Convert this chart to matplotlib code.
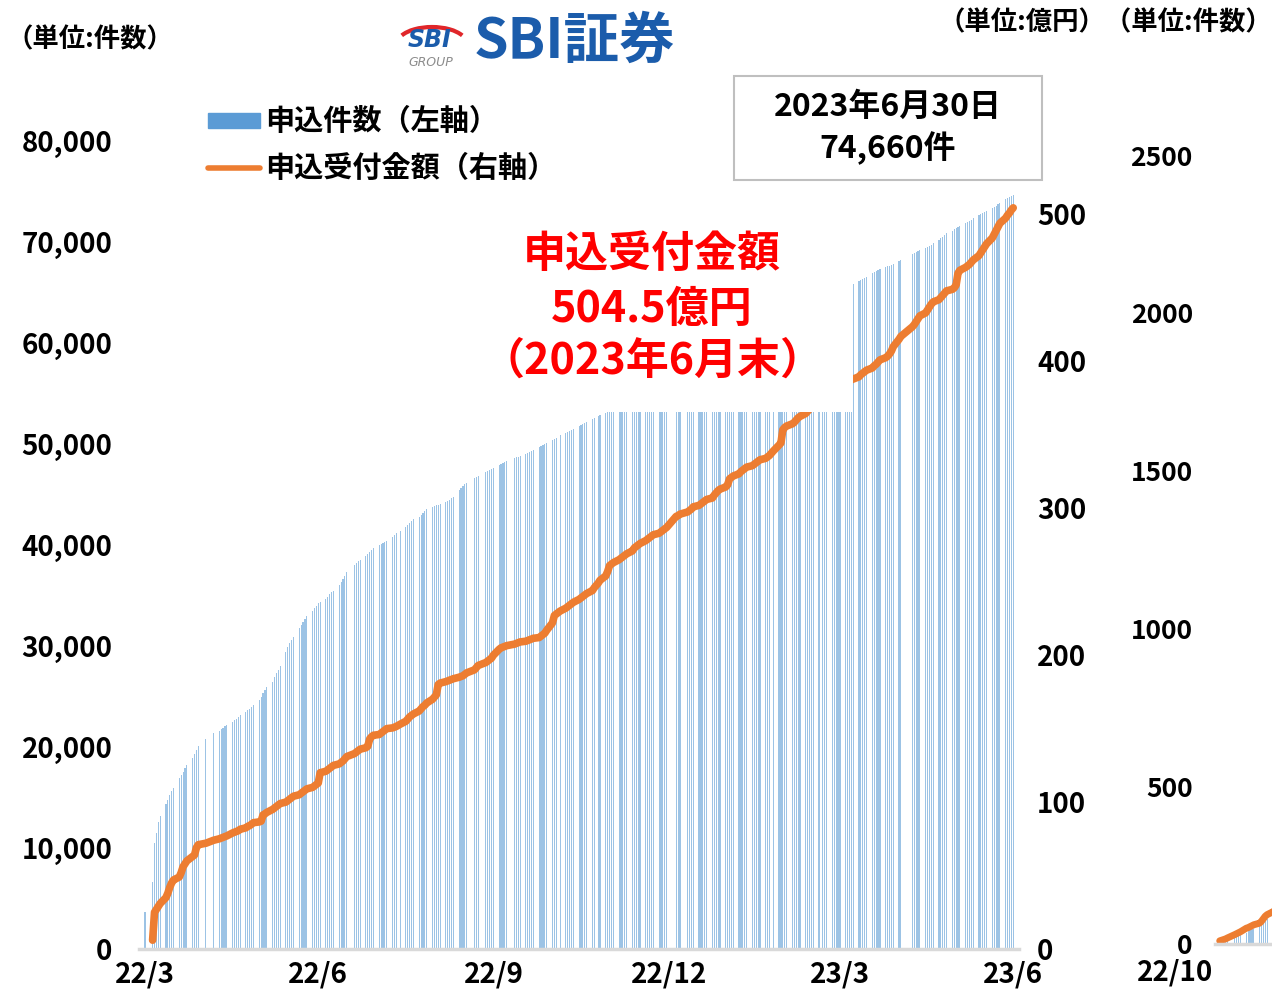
import numpy as np
import matplotlib
matplotlib.use('Agg')
import matplotlib.pyplot as plt
from matplotlib.patches import Rectangle, Arc
from matplotlib.lines import Line2D

plt.rcParams['font.family'] = ['Noto Sans CJK JP', 'DejaVu Sans']

# 申込件数 (cumulative, per business day) by month
counts_2022_03 = [3700]
counts_2022_04 = [6600, 10500, 11500, 12600, 13200, 14400, 14800, 15200, 15600, 15900,
                  16900, 17200, 17500, 17900, 18200, 18900, 19300, 19700, 20100]
counts_2022_05 = [20800, 21400, 21600, 21750, 21900, 22050, 22200, 22500, 22650, 22800,
                  23000, 23150, 23500, 23650, 23800, 24000, 24150, 24650, 25000]
counts_2022_06 = [25300, 25600, 25900, 26400, 26900, 27300, 27600, 28000, 29400, 29900, 30300,
                  30600, 30900, 31800, 32100, 32400, 32700, 33000, 33500, 33800, 34000, 34300]
counts_2022_07 = [34400, 34700, 34900, 35100, 35300, 35400, 36000, 36300, 36600, 36900,
                  37300, 38000, 38200, 38400, 38500, 38900, 39100, 39300, 39500, 39700]
counts_2022_08 = [40000, 40100, 40200, 40300, 40400, 40800, 41000, 41150, 41400, 41800, 42000,
                  42200, 42400, 42600, 42800, 43000, 43200, 43400, 43600, 43800, 43900, 44000]
counts_2022_09 = [44000, 44100, 44300, 44400, 44500, 44650, 44800, 45400, 45600, 45800,
                  46000, 46100, 46600, 46700, 46800, 47200, 47300, 47400, 47500, 47600]
counts_2022_10 = [47900, 48000, 48100, 48200, 48300, 48600, 48700, 48750, 48800, 49050,
                  49150, 49250, 49350, 49400, 49700, 49800, 49900, 50000, 50100, 50400]
counts_2022_11 = [50500, 50600, 50900, 51100, 51200, 51300, 51400, 51450, 51800, 51900,
                  52000, 52100, 52150, 52450, 52550, 52800, 52900, 53100, 53200, 53300]
counts_2022_12 = [53400, 53500, 53700, 53800, 53900, 54000, 54100, 54300, 54400, 54500, 54600,
                  54700, 54900, 55000, 55100, 55200, 55300, 55500, 55600, 55700, 55800, 55900]
counts_2023_01 = [56300, 56400, 56500, 56800, 56900, 57000, 57100, 57400, 57500, 57600,
                  57700, 57800, 58100, 58200, 58300, 58400, 58500, 58800, 58900]
counts_2023_02 = [59200, 59300, 59400, 59700, 59800, 59900, 60000, 60100, 60400, 60500,
                  60600, 60700, 60800, 61100, 61200, 61300, 61500, 61800, 61900]
counts_2023_03 = [62200, 62300, 62400, 62700, 62800, 62900, 63000, 63100, 63400, 63500, 63600,
                  63700, 63800, 64100, 64200, 64300, 64400, 64800, 64900, 65000, 65100, 65200]
counts_2023_04 = [65500, 65600, 65700, 65800, 65840, 66100, 66200, 66300, 66450, 66560,
                  66900, 67000, 67100, 67200, 67300, 67500, 67580, 67650, 67730, 67820]
counts_2023_05 = [68150, 68250, 68800, 68900, 69000, 69100, 69200, 69400, 69500, 69600,
                  69750, 69860, 70200, 70350, 70500, 70650, 70850, 71100, 71250, 71400]
counts_2023_06 = [71500, 71600, 71850, 71950, 72100, 72200, 72340, 72650, 72750, 72850, 72950,
                  73060, 73400, 73500, 73600, 73750, 73880, 74250, 74350, 74450, 74550, 74660]

# 申込受付金額 (億円, cumulative)
amount_2022_04 = [6, 25, 27, 29, 31, 35, 38, 42, 45, 47, 49, 52, 56, 58, 60, 63, 64, 69, 71]
amount_2022_05 = [72, 74, 75, 75.5, 76, 76.5, 77, 79, 79.5, 80, 80.5, 81.5, 82.5, 83.5, 84,
                  85, 86, 86.5, 87]
amount_2022_06 = [91.3, 92, 93, 95, 96, 97, 98, 99, 100, 101, 102, 103, 104, 105, 106, 107,
                  108, 109, 110, 111, 112, 113]
amount_2022_07 = [120, 121, 122, 123, 124, 125, 126, 127, 128, 129.5, 131, 133, 134, 135, 136,
                  137, 138, 143, 144.5, 145.5]
amount_2022_08 = [146, 147, 148, 149, 150, 150.5, 151, 151.5, 153, 155, 156.5, 158, 159, 160,
                  162, 163.5, 165, 166, 167.5, 170, 171.5, 173]
amount_2022_09 = [180, 181, 182, 182.5, 183, 183.5, 184, 185, 185.5, 186, 187, 188, 190, 191.5,
                  193, 195, 196, 197, 198, 200]
amount_2022_10 = [204, 205, 205.5, 206, 206.5, 207.5, 208, 208.5, 209, 209.5, 210, 210.5, 211,
                  211.5, 212, 213, 214, 215, 217, 222]
amount_2022_11 = [227, 228, 230, 232, 233, 234, 235, 236, 238, 239, 240, 241, 242, 244, 246,
                  249, 251, 254, 257, 261]
amount_2022_12 = [262, 263, 265, 266, 267, 268, 269, 271, 273, 274, 275, 276, 278, 279, 280,
                  281, 282, 283, 284, 285, 286, 287]
amount_2023_01 = [294.5, 295, 296, 297.5, 298.5, 299.5, 301, 302, 303, 304, 305, 306, 307, 309,
                  310.5, 312, 313, 314.5, 316]
amount_2023_02 = [320, 321, 322, 323.5, 325, 326, 327, 328, 329, 330, 331, 332, 333, 334, 335,
                  336, 339, 343, 344.5]
amount_2023_03 = [353.5, 355, 356, 357.5, 358.5, 360, 361.5, 362.5, 364.5, 366, 367.5, 369,
                  370.5, 372, 374, 375, 376, 378, 379, 380, 381, 382]
amount_2023_04 = [385, 386, 386.5, 387.5, 388, 389.5, 391, 392, 393, 394, 395.5, 397, 398,
                  399.5, 401, 402.5, 403.5, 405, 407, 410]
amount_2023_05 = [415, 417, 423.5, 425, 427, 429, 431, 433, 435, 437, 439, 440.5, 442, 443.5,
                  445, 446.5, 448, 449, 450, 452]
amount_2023_06 = [460, 462, 464, 465, 466, 467.5, 469, 472, 474, 476, 478, 480, 484, 486.5, 489,
                  491.5, 494, 497.5, 499.5, 501, 503, 504.5]

count_months = ['2022-03', '2022-04', '2022-05', '2022-06', '2022-07', '2022-08', '2022-09',
                '2022-10', '2022-11', '2022-12', '2023-01', '2023-02', '2023-03', '2023-04',
                '2023-05', '2023-06']
count_lists = [counts_2022_03, counts_2022_04, counts_2022_05, counts_2022_06, counts_2022_07,
               counts_2022_08, counts_2022_09, counts_2022_10, counts_2022_11, counts_2022_12,
               counts_2023_01, counts_2023_02, counts_2023_03, counts_2023_04, counts_2023_05,
               counts_2023_06]
amount_lists = [[], amount_2022_04, amount_2022_05, amount_2022_06, amount_2022_07,
                amount_2022_08, amount_2022_09, amount_2022_10, amount_2022_11, amount_2022_12,
                amount_2023_01, amount_2023_02, amount_2023_03, amount_2023_04, amount_2023_05,
                amount_2023_06]

jp_holidays = ['2022-04-29', '2022-05-03', '2022-05-04', '2022-05-05', '2022-07-18',
               '2022-08-11', '2022-09-19', '2022-09-23', '2022-10-10', '2022-11-03',
               '2022-11-23', '2023-01-02', '2023-01-03', '2023-01-09', '2023-02-23',
               '2023-03-21', '2023-05-03', '2023-05-04', '2023-05-05']

tick_dates = ['2022-03-31', '2022-06-30', '2022-09-30', '2022-12-31', '2023-03-31', '2023-06-30']
tick_labels = ['22/3', '22/6', '22/9', '22/12', '23/3', '23/6']

# far-right (cut off) second chart, Oct 2022 onward
sub_counts = [3, 4, 6, 8, 10, 18, 21, 24, 27, 36, 40, 43, 46, 49, 56, 62, 70, 76, 80, 88, 95, 100]
sub_amount = [10, 12, 14, 16, 19, 30, 33, 36, 39, 50, 52, 55, 58, 61, 66, 72, 80, 88, 93, 102,
              110, 115]


def business_days(month):
    first = np.datetime64(month + '-01')
    last = (first.astype('datetime64[M]') + 1).astype('datetime64[D]')
    d = np.arange(first, last)
    return d[np.is_busday(d, holidays=jp_holidays)]


start = np.datetime64('2022-03-31')
bar_x, bar_y, line_x, line_y = [], [], [], []
for m, cl, al in zip(count_months, count_lists, amount_lists):
    days = business_days(m)
    dc = days[len(days) - len(cl):]
    bar_x += list((dc - start).astype(int))
    bar_y += cl
    if al:
        da = days[len(days) - len(al):]
        line_x += list((da - start).astype(int))
        line_y += al

W, H = 1272, 990
fig = plt.figure(figsize=(W / 100, H / 100), dpi=100)


def fx(px):
    return px / W


def fy(py):
    return 1 - py / H


BLUE = '#5B9BD5'
ORANGE = '#ED7D31'
GRID = '#D9D9D9'

ax = fig.add_axes([fx(139), fy(949), fx(1019 - 139), (949 - 141) / H])
ax.bar(bar_x, bar_y, width=0.6, color=BLUE, alpha=0.6, linewidth=0)
ax.set_ylim(0, 80000)
ax.set_xlim((139 - 145) / 1.904, (1019 - 145) / 1.904)
ax.set_yticks(range(0, 80001, 10000))
ax.set_yticklabels([f'{v:,}' for v in range(0, 80001, 10000)], fontsize=20, fontweight='bold')
tick_x = [(np.datetime64(t) - start).astype(int) for t in tick_dates]
ax.set_xticks(tick_x)
ax.set_xticklabels(tick_labels, fontsize=20, fontweight='bold')
ax.tick_params(axis='y', length=0, pad=19)
ax.tick_params(axis='x', length=0, pad=8)
for s in ['top', 'left', 'right']:
    ax.spines[s].set_visible(False)
ax.spines['bottom'].set_color(GRID)
ax.spines['bottom'].set_linewidth(2.5)

ax2 = ax.twinx()
ax2.plot(line_x, line_y, color=ORANGE, lw=5.5, solid_capstyle='round',
         solid_joinstyle='round')
ax2.set_ylim(0, 550)
ax2.set_yticks(range(0, 501, 100))
ax2.set_yticklabels([str(v) for v in range(0, 501, 100)], fontsize=20, fontweight='bold')
ax2.tick_params(axis='y', length=0, pad=13)
for s in ax2.spines.values():
    s.set_visible(False)

# second chart, mostly outside the canvas
ax3 = fig.add_axes([fx(1215), fy(944), fx(400), (944 - 155) / H])
sub_days = business_days('2022-10')
sub_days = np.concatenate([sub_days, business_days('2022-11')])
sx = (sub_days - np.datetime64('2022-10-01')).astype(int)
ax3.bar(sx[:len(sub_counts)], sub_counts, width=0.6, color=BLUE, alpha=0.6, linewidth=0)
ax3.plot(sx[:len(sub_amount)], sub_amount, color=ORANGE, lw=5, solid_capstyle='round')
ax3.set_ylim(0, 2500)
ax3.set_xlim(-0.5, 400 / 1.9)
ax3.set_yticks(range(0, 2501, 500))
ax3.set_yticklabels([str(v) for v in range(0, 2501, 500)], fontsize=19, fontweight='bold')
ax3.tick_params(axis='y', length=0, pad=16)
ax3.set_xticks([])
for s in ['top', 'left', 'right']:
    ax3.spines[s].set_visible(False)
ax3.spines['bottom'].set_color(GRID)
ax3.spines['bottom'].set_linewidth(2.5)
fig.text(fx(1175), fy(972), '22/10', fontsize=20, fontweight='bold', ha='center', va='center')

# unit labels
fig.text(fx(6), fy(40), '（単位:件数）', fontsize=19, fontweight='bold', va='center')
fig.text(fx(1272), fy(23), '（単位:億円）（単位:件数）', fontsize=19, fontweight='bold',
         va='center', ha='right')

# logo
fig.text(fx(474), fy(42), 'SBI証券', fontsize=40, fontweight='bold', color='#1B5CAB',
         va='center', ha='left')
fig.text(fx(430), fy(40), 'SBI', fontsize=17, fontweight='bold', style='italic',
         color='#1B5CAB', va='center', ha='center', family='DejaVu Sans')
fig.text(fx(431), fy(63), 'GROUP', fontsize=9, style='italic', color='#8C8C8C',
         va='center', ha='center', family='DejaVu Sans')
fig.add_artist(Arc((fx(432), fy(44)), fx(70), 34 / H, theta1=20, theta2=160,
                   color='#E0262A', lw=3, transform=fig.transFigure))

# legend
fig.add_artist(Rectangle((fx(208), fy(128)), fx(52), 15 / H, color=BLUE,
                         transform=fig.transFigure))
fig.add_artist(Line2D([fx(208), fx(260)], [fy(168), fy(168)], color=ORANGE, lw=4,
                      transform=fig.transFigure, solid_capstyle='round'))
fig.text(fx(265), fy(121), '申込件数（左軸）', fontsize=21, fontweight='bold', va='center')
fig.text(fx(265), fy(168), '申込受付金額（右軸）', fontsize=21, fontweight='bold', va='center')

# date / count box
fig.add_artist(Rectangle((fx(734), fy(180)), fx(308), 104 / H, facecolor='white',
                         edgecolor='#BFBFBF', lw=1.5, transform=fig.transFigure, zorder=5))
fig.text(fx(888), fy(107), '2023年6月30日', fontsize=23, fontweight='bold', ha='center',
         va='center', zorder=6)
fig.text(fx(888), fy(148), '74,660件', fontsize=23, fontweight='bold', ha='center',
         va='center', zorder=6)

# red annotation with white background
fig.add_artist(Rectangle((fx(601), fy(412)), fx(252), 195 / H, facecolor='white',
                         edgecolor='none', transform=fig.transFigure, zorder=5))
fig.text(fx(652), fy(254), '申込受付金額', fontsize=31, fontweight='bold', color='#FF0000',
         ha='center', va='center', zorder=6)
fig.text(fx(652), fy(309), '504.5億円', fontsize=31, fontweight='bold', color='#FF0000',
         ha='center', va='center', zorder=6)
fig.text(fx(652), fy(361), '（2023年6月末）', fontsize=31, fontweight='bold', color='#FF0000',
         ha='center', va='center', zorder=6)

fig.savefig('out.png', dpi=100)
